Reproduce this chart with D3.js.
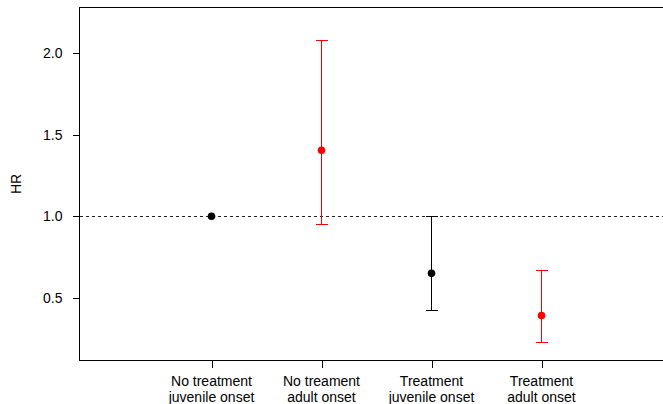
<!DOCTYPE html>
<html>
<head>
<meta charset="utf-8">
<script src="https://cdn.jsdelivr.net/npm/d3@7"></script>
<style>
  body { margin: 0; background: #fff; }
  svg { display: block; font-family: "Liberation Sans", Arial, sans-serif; }
  line, rect { shape-rendering: crispEdges; }
</style>
</head>
<body>
<svg id="chart" width="663" height="404"></svg>
<script>
// data
const groups = [1, 2, 3, 4]
const labelTop = ['No treatment', 'No treament', 'Treatment', 'Treatment']
const labelBottom = ['juvenile onset', 'adult onset', 'juvenile onset', 'adult onset']
const hr = [1.0, 1.404, 0.651, 0.393]
const lower = [1.0, 0.951, 0.424, 0.227]
const upper = [1.0, 2.073, 1.0, 0.671]
const colors = ['black', 'red', 'black', 'red']
const yTicks = [0.5, 1.0, 1.5, 2.0]

let svg = d3.select('#chart')

// plot region (right edge runs off the page, like the original)
const plotLeft = 79.5, plotRight = 673.5, plotTop = 7.5, plotBottom = 360.5

let x = d3.scaleLinear().domain([-0.2, 5.2]).range([plotLeft, plotRight])
let y = d3.scaleLinear().domain([0.118, 2.277]).range([plotBottom, plotTop])

// box
svg.append('rect')
  .attr('x', plotLeft).attr('y', plotTop)
  .attr('width', plotRight - plotLeft).attr('height', plotBottom - plotTop)
  .attr('fill', 'none').attr('stroke', 'black').attr('stroke-width', 1)

// y axis
let yAxis = svg.append('g')
  .attr('transform', `translate(${plotLeft},0)`)
  .call(d3.axisLeft(y).tickValues(yTicks).tickFormat(d3.format('.1f')).tickSize(7).tickPadding(10))
yAxis.select('.domain').remove()
yAxis.selectAll('text').attr('font-size', 14).attr('fill', '#000').attr('font-family', null)
yAxis.selectAll('line').attr('stroke', '#000')

// x axis
let xAxis = svg.append('g')
  .attr('transform', `translate(0,${plotBottom})`)
  .call(d3.axisBottom(x).tickValues(groups).tickFormat('').tickSize(7))
xAxis.select('.domain').remove()
xAxis.selectAll('line').attr('stroke', '#000')

// two-line x labels
let lab = svg.append('g')
  .selectAll('text')
  .data(groups)
  .enter()
  .append('text')
  .attr('text-anchor', 'middle')
  .attr('font-size', 14)
  .attr('fill', '#000')
lab.append('tspan')
  .attr('x', d => x(d)).attr('y', 386)
  .text((d, i) => labelTop[i])
lab.append('tspan')
  .attr('x', d => x(d)).attr('y', 401.5)
  .text((d, i) => labelBottom[i])

// y label
svg.append('text')
  .attr('transform', `translate(21,${(plotTop + plotBottom) / 2}) rotate(-90)`)
  .attr('text-anchor', 'middle')
  .attr('font-size', 14)
  .text('HR')

// reference line at HR = 1
svg.append('line')
  .attr('x1', plotLeft).attr('x2', plotRight)
  .attr('y1', y(1)).attr('y2', y(1))
  .attr('stroke', '#222').attr('stroke-dasharray', '3,3')

// error bars
let bars = svg.append('g')
  .selectAll('g')
  .data(groups)
  .enter()
  .append('g')
  .attr('stroke', (d, i) => colors[i])
  .attr('stroke-width', 1)

bars.filter((d, i) => upper[i] !== lower[i]).each(function (d) {
  let i = groups.indexOf(d)
  let g = d3.select(this)
  g.append('line').attr('x1', x(d)).attr('x2', x(d)).attr('y1', y(lower[i])).attr('y2', y(upper[i]))
  g.append('line').attr('x1', x(d) - 6).attr('x2', x(d) + 6).attr('y1', y(lower[i])).attr('y2', y(lower[i]))
  g.append('line').attr('x1', x(d) - 6).attr('x2', x(d) + 6).attr('y1', y(upper[i])).attr('y2', y(upper[i]))
})

// points
svg.append('g')
  .selectAll('circle')
  .data(groups)
  .enter()
  .append('circle')
  .attr('cx', d => x(d))
  .attr('cy', (d, i) => y(hr[i]))
  .attr('r', 3.8)
  .attr('fill', (d, i) => colors[i])
</script>
</body>
</html>
